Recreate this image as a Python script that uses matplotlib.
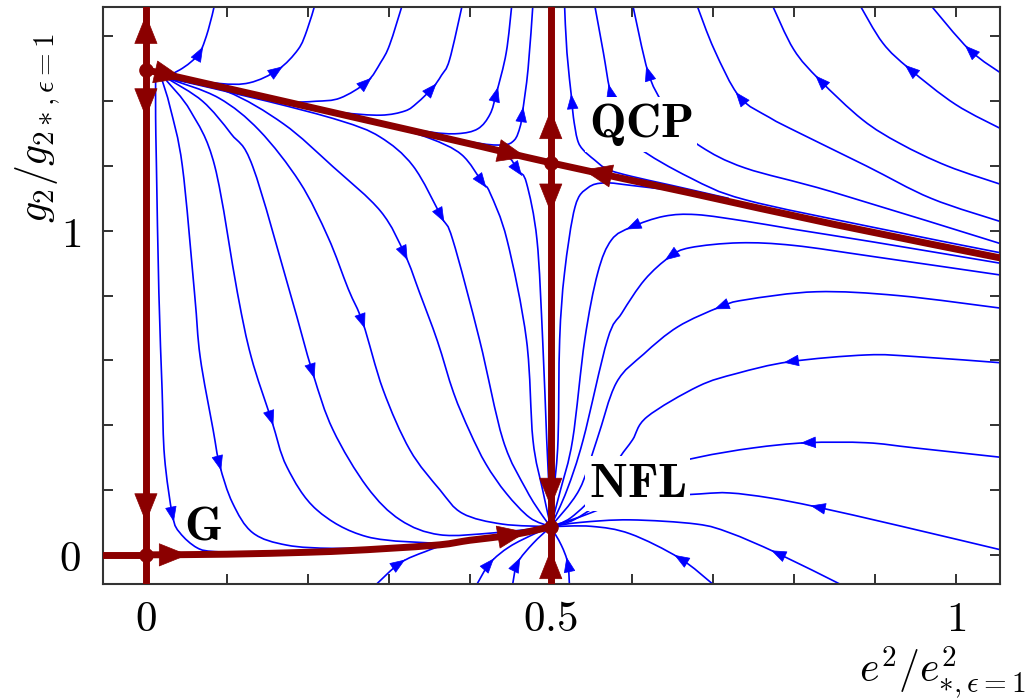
import numpy as np
import matplotlib
matplotlib.use("Agg")
import matplotlib.pyplot as plt
from matplotlib.path import Path
from matplotlib.patches import PathPatch

plt.rcParams['mathtext.fontset'] = 'cm'
plt.rcParams['font.family'] = ['DejaVu Serif']

# fixed points: G, upper-left, QCP, NFL
fp_x = [0.0, 0.0, 0.5, 0.5]
fp_y = [0.0, 1.497, 1.21, 0.087]

# separatrices (dark red)
sep_x0 = ([0.0, 0.0], [-0.1, 1.7])
sep_x5 = ([0.5, 0.5], [-0.1, 1.7])
sep_g_left = ([-0.06, 0.0], [0.0, 0.0])
sep_g_nfl_x = [0.0, 0.1, 0.2, 0.25, 0.3, 0.363, 0.4, 0.44, 0.47, 0.5]
sep_g_nfl_y = [0.0, 0.002, 0.008, 0.013, 0.02, 0.031, 0.045, 0.057, 0.07, 0.087]
sep_qcp_x = [0.0, 0.363, 0.5, 0.672, 0.85, 1.06]
sep_qcp_y = [1.497, 1.29, 1.21, 1.117, 1.02, 0.914]

# red arrows: (tail, tip)
red_arrows = [
    ((0.0, 1.60), (0.0, 1.667)),
    ((0.0, 1.42), (0.0, 1.35)),
    ((0.0, 0.20), (0.0, 0.10)),
    ((0.0, 0.0), (0.052, 0.0)),
    ((0.44, 0.057), (0.47, 0.07)),
    ((0.5, -0.05), (0.5, 0.015)),
    ((0.5, 0.25), (0.5, 0.148)),
    ((0.5, 1.15), (0.5, 1.056)),
    ((0.5, 1.30), (0.5, 1.373)),
    ((0.0, 1.497), (0.046, 1.471)),
    ((0.40, 1.269), (0.47, 1.227)),
    ((0.60, 1.156), (0.54, 1.188)),
]

# flow lines (blue), points listed in flow direction
a1 = [(0.03, 1.482), (0.042, 1.497), (0.055, 1.52), (0.067, 1.552), (0.077, 1.62), (0.085, 1.70)]
a2 = [(0.03, 1.478), (0.09, 1.455), (0.128, 1.457), (0.163, 1.497), (0.188, 1.56), (0.199, 1.62), (0.209, 1.70)]
a3 = [(0.03, 1.475), (0.12, 1.43), (0.174, 1.40), (0.21, 1.40), (0.24, 1.41), (0.273, 1.46), (0.29, 1.52),
      (0.301, 1.574), (0.317, 1.70)]
a4 = [(0.03, 1.474), (0.2, 1.385), (0.243, 1.365), (0.29, 1.357), (0.32, 1.37), (0.335, 1.395), (0.354, 1.441),
      (0.365, 1.48), (0.375, 1.528), (0.391, 1.70)]
a5 = [(0.03, 1.473), (0.3, 1.33), (0.351, 1.305), (0.385, 1.30), (0.41, 1.315), (0.425, 1.36), (0.433, 1.426),
      (0.445, 1.55), (0.452, 1.70)]
a6 = [(0.03, 1.472), (0.3, 1.328), (0.40, 1.275), (0.44, 1.265), (0.455, 1.28), (0.462, 1.32), (0.465, 1.364),
      (0.472, 1.5), (0.478, 1.70)]
b1 = [(0.72, 1.10), (0.65, 1.14), (0.60, 1.168), (0.57, 1.19), (0.554, 1.219), (0.54, 1.25), (0.533, 1.281),
      (0.528, 1.35), (0.526, 1.404), (0.52, 1.55), (0.517, 1.70)]
b2 = [(1.06, 0.93), (0.9, 1.01), (0.74, 1.096), (0.672, 1.164), (0.607, 1.259), (0.585, 1.33), (0.573, 1.435),
      (0.565, 1.55), (0.554, 1.70)]
b3 = [(1.06, 0.957), (0.848, 1.12), (0.74, 1.194), (0.686, 1.259), (0.66, 1.32), (0.638, 1.395), (0.620, 1.491),
      (0.601, 1.70)]
e4 = [(1.06, 1.025), (0.97, 1.10), (0.89, 1.20), (0.807, 1.302), (0.77, 1.35), (0.733, 1.414), (0.702, 1.559),
      (0.68, 1.70)]
e3 = [(1.06, 1.14), (0.99, 1.2), (0.931, 1.27), (0.885, 1.343), (0.832, 1.466), (0.80, 1.56), (0.773, 1.70)]
e2 = [(1.06, 1.31), (1.0, 1.39), (0.943, 1.50), (0.91, 1.58), (0.881, 1.70)]
e1 = [(1.06, 1.48), (1.017, 1.559), (0.968, 1.70)]
c1 = [(0.012, 1.47), (0.012, 1.35), (0.013, 1.2), (0.016, 0.809), (0.020, 0.509), (0.023, 0.302), (0.033, 0.12),
      (0.042, 0.068), (0.063, 0.022), (0.085, 0.01), (0.14, 0.006)]
c2 = [(0.02, 1.465), (0.03, 1.38), (0.045, 1.2), (0.060, 0.809), (0.067, 0.611), (0.083, 0.386), (0.091, 0.278),
      (0.107, 0.160), (0.132, 0.068), (0.174, 0.03), (0.231, 0.02), (0.3, 0.024)]
c3 = [(0.025, 1.465), (0.055, 1.37), (0.085, 1.2), (0.113, 0.809), (0.13, 0.611), (0.155, 0.417), (0.174, 0.272),
      (0.211, 0.139), (0.273, 0.056), (0.363, 0.035)]
c4 = [(0.028, 1.468), (0.07, 1.40), (0.105, 1.30), (0.132, 1.198), (0.178, 0.809), (0.206, 0.562), (0.231, 0.386),
      (0.273, 0.210), (0.314, 0.108), (0.363, 0.062), (0.43, 0.068), (0.5, 0.087)]
c5 = [(0.03, 1.468), (0.09, 1.41), (0.14, 1.31), (0.19, 1.15), (0.225, 0.98), (0.25, 0.82), (0.268, 0.716),
      (0.293, 0.509), (0.326, 0.324), (0.363, 0.201), (0.391, 0.128), (0.44, 0.095), (0.5, 0.087)]
c6 = [(0.03, 1.469), (0.1, 1.43), (0.17, 1.33), (0.231, 1.198), (0.29, 1.06), (0.32, 0.926), (0.338, 0.809),
      (0.36, 0.66), (0.38, 0.50), (0.40, 0.38), (0.42, 0.28), (0.445, 0.19), (0.474, 0.115), (0.5, 0.087)]
c7 = [(0.03, 1.47), (0.15, 1.40), (0.24, 1.34), (0.289, 1.29), (0.33, 1.20), (0.365, 1.043), (0.379, 0.972),
      (0.412, 0.664), (0.441, 0.355), (0.47, 0.2), (0.49, 0.12), (0.5, 0.087)]
c8 = [(0.03, 1.471), (0.2, 1.38), (0.3, 1.322), (0.351, 1.285), (0.39, 1.235), (0.416, 1.148), (0.425, 1.117),
      (0.446, 0.972), (0.470, 0.664), (0.478, 0.355), (0.49, 0.2), (0.5, 0.087)]
c9 = [(0.03, 1.471), (0.2, 1.381), (0.35, 1.295), (0.42, 1.252), (0.446, 1.232), (0.46, 1.185), (0.470, 1.148),
      (0.483, 0.972), (0.490, 0.664), (0.495, 0.355), (0.498, 0.2), (0.5, 0.087)]
d1 = [(0.65, 1.125), (0.6, 1.14), (0.567, 1.148), (0.546, 1.133), (0.530, 1.074), (0.517, 0.870), (0.511, 0.664),
      (0.509, 0.355), (0.504, 0.2), (0.5, 0.087)]
f1 = [(1.06, 0.898), (0.9, 0.965), (0.8, 1.005), (0.74, 1.03), (0.68, 1.05), (0.64, 1.045), (0.60, 1.012),
      (0.575, 0.972), (0.558, 0.870), (0.542, 0.664), (0.527, 0.355), (0.512, 0.2), (0.5, 0.087)]
f2 = [(1.06, 0.862), (0.9, 0.92), (0.80, 0.955), (0.733, 0.963), (0.672, 0.948), (0.647, 0.920), (0.616, 0.849),
      (0.588, 0.747), (0.570, 0.664), (0.540, 0.355), (0.52, 0.2), (0.5, 0.087)]
f3 = [(1.06, 0.76), (0.93, 0.80), (0.828, 0.812), (0.74, 0.787), (0.709, 0.765), (0.657, 0.704), (0.615, 0.62),
      (0.581, 0.531), (0.557, 0.355), (0.535, 0.2), (0.5, 0.087)]
f4 = [(1.06, 0.592), (0.95, 0.612), (0.890, 0.617), (0.795, 0.596), (0.73, 0.56), (0.682, 0.52), (0.619, 0.426),
      (0.601, 0.355), (0.585, 0.30), (0.56, 0.2), (0.525, 0.115), (0.5, 0.087)]
f5 = [(1.06, 0.30), (0.95, 0.33), (0.890, 0.346), (0.816, 0.346), (0.75, 0.33), (0.684, 0.302), (0.64, 0.27),
      (0.58, 0.19), (0.53, 0.11), (0.5, 0.087)]
f6 = [(1.06, 0.013), (0.93, 0.09), (0.828, 0.148), (0.770, 0.176), (0.721, 0.191), (0.684, 0.188), (0.598, 0.170),
      (0.536, 0.117), (0.5, 0.087)]
f7 = [(0.857, -0.09), (0.779, 0.006), (0.721, 0.068), (0.68, 0.095), (0.598, 0.108), (0.536, 0.10), (0.5, 0.087)]
f8 = [(0.70, -0.09), (0.659, -0.01), (0.598, 0.065), (0.55, 0.088), (0.5, 0.087)]
h1 = [(0.285, -0.09), (0.314, -0.025), (0.345, 0.01), (0.375, 0.033), (0.45, 0.062), (0.5, 0.087)]
h2 = [(0.409, -0.09), (0.425, -0.025), (0.449, 0.025), (0.48, 0.065), (0.5, 0.087)]
h3 = [(0.453, -0.09), (0.459, -0.025), (0.478, 0.035), (0.5, 0.087)]
h4 = [(0.523, -0.09), (0.521, -0.025), (0.513, 0.03), (0.5, 0.087)]

flow_lines = [a1, a2, a3, a4, a5, a6, b1, b2, b3, e4, e3, e2, e1,
              c1, c2, c3, c4, c5, c6, c7, c8, c9, d1,
              f1, f2, f3, f4, f5, f6, f7, f8, h1, h2, h3, h4]
# index of the point carrying the arrow head (None = no arrow)
flow_arrow_idx = [3, 3, 5, 6, 6, 6, 8, 6, 6, 5, 4, 2, 1,
                  6, 6, 5, 5, 6, 5, 5, 5, 5, None,
                  6, 5, 4, 3, 3, 2, 1, 1, 1, 1, 1, 1]

# labels
x_ticks = [0, 0.5, 1]
x_tick_labels = ['$0$', '$0.5$', '$1$']
y_ticks = [0, 1]
y_tick_labels = ['$0$', '$1$']

blue = '#0000ff'
red = '#8b0000'


def smooth_path(pts):
    # Catmull-Rom through the read points, as cubic Bezier segments
    p = np.asarray(pts, float)
    ext = np.vstack([p[0], p, p[-1]])
    verts = [p[0]]
    codes = [Path.MOVETO]
    for i in range(1, len(p)):
        p0, p1, p2, p3 = ext[i - 1], ext[i], ext[i + 1], ext[i + 2]
        verts += [p1 + (p2 - p0) / 6, p2 - (p3 - p1) / 6, p2]
        codes += [Path.CURVE4] * 3
    return Path(verts, codes)


def arrow(ax, tail, tip, color, scale, hl, hw, z):
    ax.annotate('', xy=tip, xytext=tail,
                arrowprops=dict(arrowstyle='-|>,head_length=%g,head_width=%g' % (hl, hw),
                                color=color, lw=0.5, shrinkA=0, shrinkB=0,
                                mutation_scale=scale),
                zorder=z, annotation_clip=False)


fig = plt.figure(figsize=(10.3, 6.99), dpi=100)
ax = fig.add_axes([0.100, 0.1645, 0.871, 0.8251])
ax.set_xlim(-0.053, 1.055)
ax.set_ylim(-0.09, 1.69)

to_disp = ax.transData.transform
to_data = ax.transData.inverted().transform
for pts, k in zip(flow_lines, flow_arrow_idx):
    ax.add_patch(PathPatch(smooth_path(pts), fill=False, edgecolor=blue, lw=1.2, zorder=2))
    if k is not None:
        p = to_disp(np.asarray(pts, float))
        t = p[k + 1] - p[k - 1]
        t = t / np.hypot(*t)
        tip = p[k] + 6 * t
        arrow(ax, tuple(to_data(tip - 0.5 * t)), tuple(to_data(tip)), blue, 10, 1.0, 0.38, 2.5)

# separatrices
lw_red = 5
ax.plot(*sep_x0, color=red, lw=lw_red, zorder=4, solid_capstyle='butt')
ax.plot(*sep_x5, color=red, lw=lw_red, zorder=4, solid_capstyle='butt')
ax.plot(*sep_g_left, color=red, lw=lw_red, zorder=4, solid_capstyle='butt')
ax.add_patch(PathPatch(smooth_path(list(zip(sep_g_nfl_x, sep_g_nfl_y))), fill=False,
                       edgecolor=red, lw=lw_red, zorder=4))
ax.add_patch(PathPatch(smooth_path(list(zip(sep_qcp_x, sep_qcp_y))), fill=False,
                       edgecolor=red, lw=lw_red, zorder=4))
for tail, tip in red_arrows:
    arrow(ax, tail, tip, red, 25, 0.8, 0.32, 5)
ax.plot(fp_x, fp_y, 'o', color=red, ms=9.5, zorder=6)

# point labels with white boxes hiding the lines behind
box = dict(boxstyle='square,pad=0.08', fc='white', ec='none')
ax.text(0.547, 1.29, r'$\mathbf{QCP}$', fontsize=35, ha='left', va='baseline', bbox=box, zorder=3)
ax.text(0.547, 0.179, r'$\mathbf{NFL}$', fontsize=35, ha='left', va='baseline', bbox=box, zorder=3)
ax.text(0.047, 0.046, r'$\mathbf{G}$', fontsize=35, ha='left', va='baseline', zorder=3)

ax.set_xticks(x_ticks)
ax.set_xticklabels(x_tick_labels)
ax.set_yticks(y_ticks)
ax.set_yticklabels(y_tick_labels)
ax.set_xticks(np.arange(-0.0, 1.05, 0.1), minor=True)
ax.set_yticks(np.arange(0.0, 1.7, 0.2), minor=True)
ax.tick_params(which='both', direction='in', top=True, right=True, length=7, width=1.3,
               labelsize=31, color='#222222')
ax.tick_params(axis='x', pad=10)
ax.tick_params(axis='y', pad=16)
for s in ax.spines.values():
    s.set_linewidth(1.5)
    s.set_color('#333333')

ax.set_xlabel(r'$e^2/e^2_{*,\epsilon=1}$', fontsize=30)
ax.xaxis.set_label_coords(0.935, -0.105)
ax.set_ylabel(r'$g_2/g_{2*,\epsilon=1}$', fontsize=30)
ax.yaxis.set_label_coords(-0.046, 0.79)

fig.savefig('out.png', dpi=100)
